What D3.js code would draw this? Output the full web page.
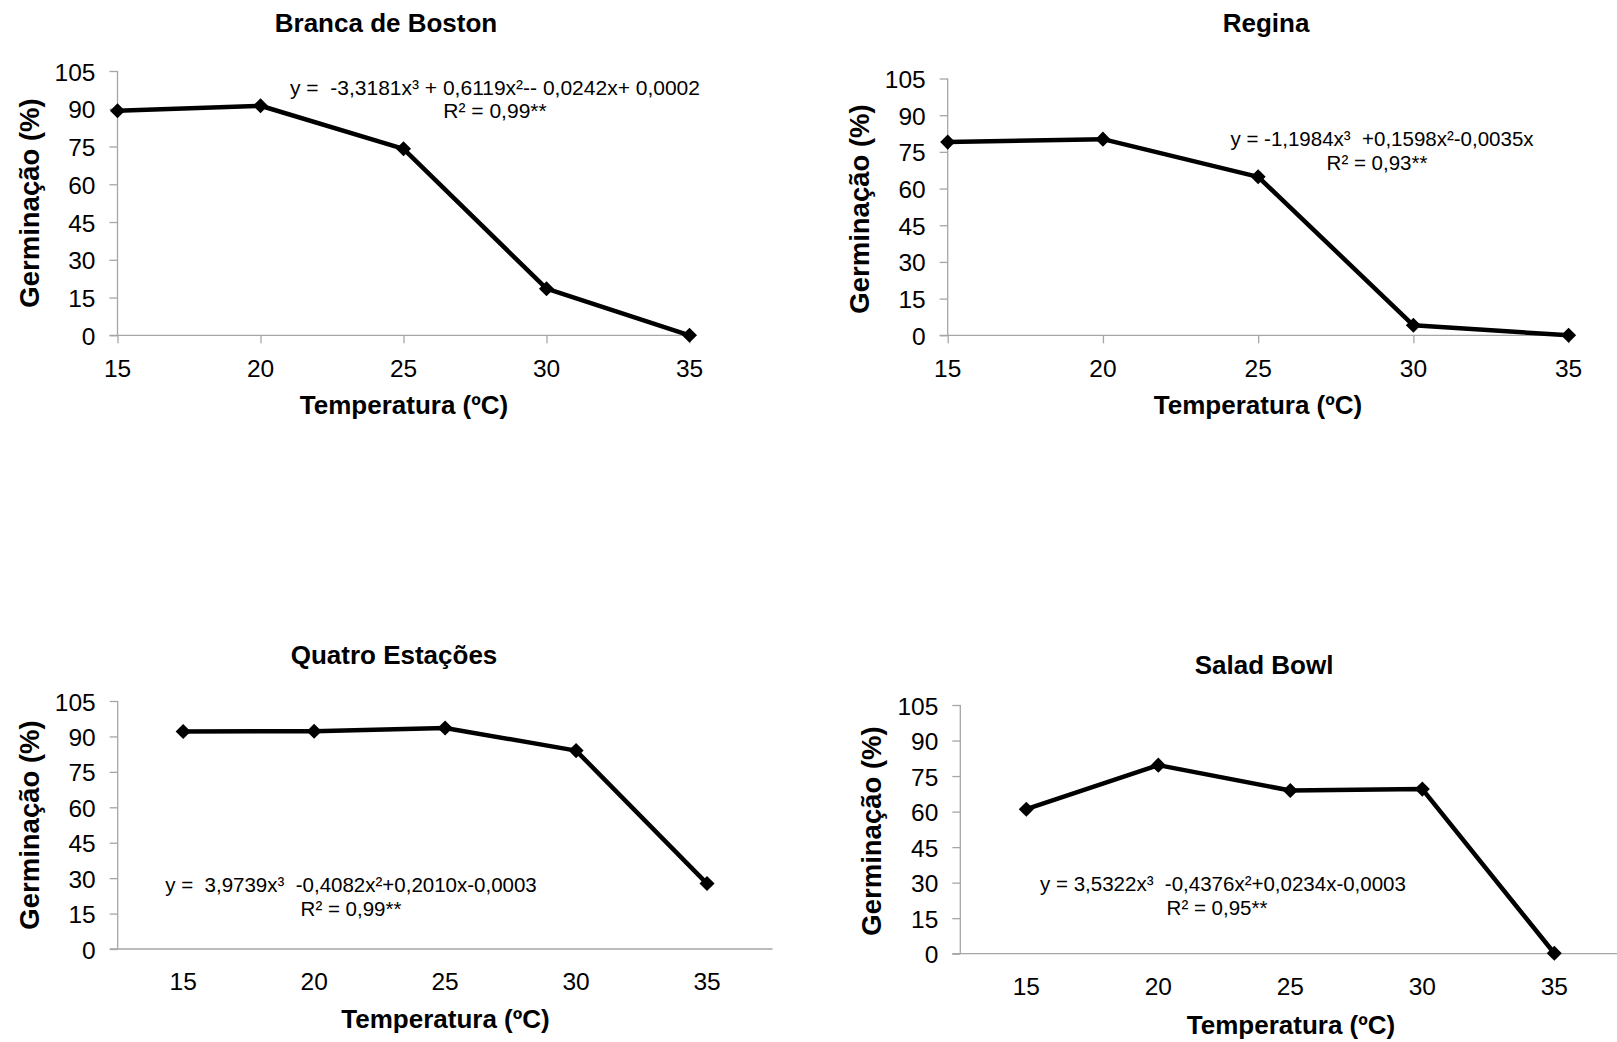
<!DOCTYPE html>
<html>
<head>
<meta charset="utf-8">
<script src="https://cdnjs.cloudflare.com/ajax/libs/d3/7.8.5/d3.min.js"></script>
<style>
  html, body { margin: 0; padding: 0; background: #fff; }
  svg { display: block; }
  text { font-family: "Liberation Sans", Arial, sans-serif; fill: #000; white-space: pre; }
</style>
</head>
<body>
<svg id="chart" width="1617" height="1042"></svg>
<script>
// ---- data ----
const temperatures = ["15", "20", "25", "30", "35"];
const yTickValues = [0, 15, 30, 45, 60, 75, 90, 105];

const brancaValues = [89.2, 91.2, 74.1, 18.5, 0];
const reginaValues = [79.0, 80.2, 64.8, 4.1, 0];
const quatroValues = [92.1, 92.2, 93.6, 84.0, 27.7];
const saladValues  = [61.0, 79.6, 68.9, 69.5, 0.2];

const chartTitles = ["Branca de Boston", "Regina", "Quatro Estações", "Salad Bowl"];
const equations = [
  "y =  -3,3181x³ + 0,6119x²-- 0,0242x+ 0,0002",
  "y = -1,1984x³  +0,1598x²-0,0035x",
  "y =  3,9739x³  -0,4082x²+0,2010x-0,0003",
  "y = 3,5322x³  -0,4376x²+0,0234x-0,0003"
];
const r2Labels = ["R² = 0,99**", "R² = 0,93**", "R² = 0,99**", "R² = 0,95**"];
const xAxisTitle = "Temperatura (ºC)";
const yAxisTitle = "Germinação (%)";

// ---- layout ----
const panels = [
  { values: brancaValues, mode: "point", x0: 117.5, x1: 689.5, yTop: 71, yBot: 335.3,
    title: [386, 23], xTitle: [404, 405], yTitle: [29, 203], xLabY: 368,
    eq: [495, 87], r2: [495, 110], eqSize: 21 },
  { values: reginaValues, mode: "point", x0: 947.7, x1: 1568.6, yTop: 78.5, yBot: 335.3,
    title: [1266, 23], xTitle: [1258, 405], yTitle: [859, 209], xLabY: 368,
    eq: [1382, 138], r2: [1377, 162], eqSize: 20.5 },
  { values: quatroValues, mode: "band", x0: 117.7, x1: 772.5, yTop: 701, yBot: 949,
    title: [394, 655], xTitle: [445.5, 1019], yTitle: [29, 825], xLabY: 981.5,
    eq: [351, 884], r2: [351, 908], eqSize: 20.5 },
  { values: saladValues, mode: "band", x0: 960.3, x1: 1620.3, yTop: 705, yBot: 953.7,
    title: [1264, 665], xTitle: [1291, 1025], yTitle: [871.5, 831], xLabY: 986,
    eq: [1223, 883], r2: [1217, 907], eqSize: 20.5 }
];

const svg = d3.select("#chart");
const axisColor = "#a6a6a6";

function label(g, x, y, str, opts) {
  return g.append("text")
    .attr("transform", `translate(${x},${y})` + (opts.rotate ? ` rotate(${opts.rotate})` : ""))
    .attr("text-anchor", opts.anchor || "middle")
    .attr("dominant-baseline", "central")
    .style("font-size", opts.size + "px")
    .style("font-weight", opts.bold ? "bold" : "normal")
    .text(str);
}

panels.forEach((p, i) => {
  const g = svg.append("g");
  const y = d3.scaleLinear().domain([0, 105]).range([p.yBot, p.yTop]);
  let x;
  if (p.mode === "point") {
    x = d3.scalePoint().domain(temperatures).range([p.x0, p.x1]).padding(0);
  } else {
    x = d3.scaleBand().domain(temperatures).range([p.x0, p.x1]).paddingInner(0).paddingOuter(0);
  }
  const xc = d => p.mode === "point" ? x(d) : x(d) + x.bandwidth() / 2;

  // y axis
  const yAxis = d3.axisLeft(y).tickValues(yTickValues).tickSize(8).tickFormat("");
  const ya = g.append("g").attr("transform", `translate(${p.x0},0)`).call(yAxis);
  ya.select(".domain").attr("d", `M-0,${p.yTop}V${p.yBot}`);
  ya.selectAll("path,line").attr("stroke", axisColor).attr("stroke-width", 1.3);
  yTickValues.forEach(v => {
    label(g, p.x0 - 22, y(v) + 1, String(v), { size: 24.5, anchor: "end" });
  });

  // x axis
  const xa = g.append("g").attr("transform", `translate(0,${p.yBot})`);
  if (p.mode === "point") {
    xa.call(d3.axisBottom(x).tickSize(8).tickSizeOuter(0).tickFormat(""));
  } else {
    xa.call(d3.axisBottom(x).tickSize(0).tickSizeOuter(0).tickFormat(""));
  }
  xa.select(".domain").attr("d", `M${p.x0 - 8},0H${p.x1}`);
  xa.selectAll("path,line").attr("stroke", axisColor).attr("stroke-width", 1.3);
  temperatures.forEach(t => {
    label(g, xc(t), p.xLabY, t, { size: 24.5 });
  });

  // line
  const line = d3.line().x((d, k) => xc(temperatures[k])).y(d => y(d));
  g.append("path").datum(p.values)
    .attr("d", line)
    .attr("fill", "none")
    .attr("stroke", "#000")
    .attr("stroke-width", 4.5)
    .attr("stroke-linejoin", "round");

  // markers (diamonds)
  const diamond = d3.symbol().type(d3.symbolDiamond2).size(145);
  g.selectAll("path.mk").data(p.values).enter().append("path")
    .attr("class", "mk")
    .attr("d", diamond)
    .attr("transform", (d, k) => `translate(${xc(temperatures[k])},${y(d)})`)
    .attr("fill", "#000");

  // titles
  label(g, p.title[0], p.title[1], chartTitles[i], { size: 26, bold: true });
  label(g, p.xTitle[0], p.xTitle[1], xAxisTitle, { size: 26, bold: true });
  label(g, p.yTitle[0], p.yTitle[1], yAxisTitle, { size: 27.5, bold: true, rotate: -90 });

  // equations
  label(g, p.eq[0], p.eq[1], equations[i], { size: p.eqSize });
  label(g, p.r2[0], p.r2[1], r2Labels[i], { size: p.eqSize });
});
</script>
</body>
</html>
